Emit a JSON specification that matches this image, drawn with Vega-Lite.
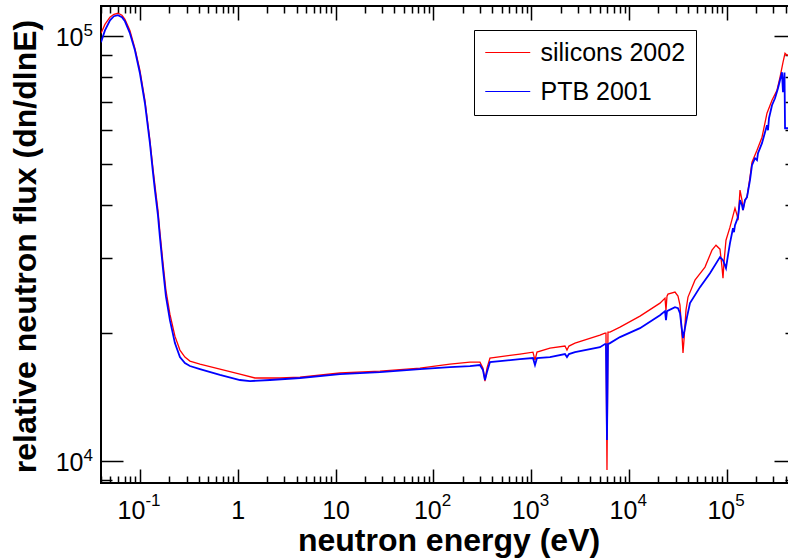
{
  "$schema": "https://vega.github.io/schema/vega-lite/v6.json",
  "autosize": {"type": "none"},
  "padding": {"left": 101, "top": 6, "right": -8, "bottom": 75},
  "width": 695,
  "height": 477,
  "background": "white",
  "data": {"values": [
    {"s":"silicons 2002","E":0.04,"F":101500},{"s":"silicons 2002","E":0.0439,"F":106500},{"s":"silicons 2002","E":0.0494,"F":110700},{"s":"silicons 2002","E":0.0542,"F":112500},{"s":"silicons 2002","E":0.0596,"F":113100},{"s":"silicons 2002","E":0.0655,"F":111900},{"s":"silicons 2002","E":0.0703,"F":109500},{"s":"silicons 2002","E":0.079,"F":103100},{"s":"silicons 2002","E":0.0889,"F":93560},{"s":"silicons 2002","E":0.1,"F":83050},{"s":"silicons 2002","E":0.1125,"F":70600},{"s":"silicons 2002","E":0.1265,"F":56860},{"s":"silicons 2002","E":0.1358,"F":48870},{"s":"silicons 2002","E":0.1423,"F":44570},{"s":"silicons 2002","E":0.1528,"F":38920},{"s":"silicons 2002","E":0.1601,"F":34550},{"s":"silicons 2002","E":0.1718,"F":29370},{"s":"silicons 2002","E":0.1843,"F":25240},{"s":"silicons 2002","E":0.2026,"F":22160},{"s":"silicons 2002","E":0.2279,"F":19670},{"s":"silicons 2002","E":0.2564,"F":18240},{"s":"silicons 2002","E":0.2884,"F":17560},{"s":"silicons 2002","E":0.3245,"F":17180},{"s":"silicons 2002","E":0.4107,"F":16910},{"s":"silicons 2002","E":0.6577,"F":16460},{"s":"silicons 2002","E":1.053,"F":16020},{"s":"silicons 2002","E":1.5,"F":15680},{"s":"silicons 2002","E":2.7,"F":15680},{"s":"silicons 2002","E":4.325,"F":15760},{"s":"silicons 2002","E":11.09,"F":16110},{"s":"silicons 2002","E":28.44,"F":16280},{"s":"silicons 2002","E":72.95,"F":16540},{"s":"silicons 2002","E":147.8,"F":16910},{"s":"silicons 2002","E":236.7,"F":17090},{"s":"silicons 2002","E":299.6,"F":17090},{"s":"silicons 2002","E":321.6,"F":16540},{"s":"silicons 2002","E":337,"F":15420},{"s":"silicons 2002","E":353.3,"F":16540},{"s":"silicons 2002","E":379,"F":17470},{"s":"silicons 2002","E":768.2,"F":17850},{"s":"silicons 2002","E":1043,"F":18040},{"s":"silicons 2002","E":1094,"F":17280},{"s":"silicons 2002","E":1147,"F":18040},{"s":"silicons 2002","E":1557,"F":18440},{"s":"silicons 2002","E":2216,"F":18640},{"s":"silicons 2002","E":2323,"F":18240},{"s":"silicons 2002","E":2435,"F":18640},{"s":"silicons 2002","E":2805,"F":18940},{"s":"silicons 2002","E":5052,"F":19780},{"s":"silicons 2002","E":5682,"F":20000},{"s":"silicons 2002","E":5818,"F":20000},{"s":"silicons 2002","E":5957,"F":9524},{"s":"silicons 2002","E":6099,"F":20100},{"s":"silicons 2002","E":6394,"F":20100},{"s":"silicons 2002","E":8091,"F":20660},{"s":"silicons 2002","E":12960,"F":21920},{"s":"silicons 2002","E":20750,"F":23520},{"s":"silicons 2002","E":23350,"F":24170},{"s":"silicons 2002","E":23900,"F":22650},{"s":"silicons 2002","E":24470,"F":24430},{"s":"silicons 2002","E":25050,"F":24700},{"s":"silicons 2002","E":29540,"F":24970},{"s":"silicons 2002","E":31700,"F":24430},{"s":"silicons 2002","E":33220,"F":23270},{"s":"silicons 2002","E":34830,"F":19780},{"s":"silicons 2002","E":35660,"F":17950},{"s":"silicons 2002","E":36510,"F":19250},{"s":"silicons 2002","E":38270,"F":22650},{"s":"silicons 2002","E":40120,"F":24300},{"s":"silicons 2002","E":47290,"F":26640},{"s":"silicons 2002","E":59860,"F":28590},{"s":"silicons 2002","E":70590,"F":31340},{"s":"silicons 2002","E":77560,"F":32200},{"s":"silicons 2002","E":85210,"F":31510},{"s":"silicons 2002","E":89320,"F":28590},{"s":"silicons 2002","E":91440,"F":26930},{"s":"silicons 2002","E":93620,"F":29370},{"s":"silicons 2002","E":98130,"F":33080},{"s":"silicons 2002","E":107800,"F":35500},{"s":"silicons 2002","E":121300,"F":39350},{"s":"silicons 2002","E":127200,"F":37880},{"s":"silicons 2002","E":130200,"F":36870},{"s":"silicons 2002","E":136500,"F":43380},{"s":"silicons 2002","E":143000,"F":41090},{"s":"silicons 2002","E":146400,"F":38920},{"s":"silicons 2002","E":153500,"F":41090},{"s":"silicons 2002","E":160900,"F":41770},{"s":"silicons 2002","E":172700,"F":46540},{"s":"silicons 2002","E":181000,"F":50470},{"s":"silicons 2002","E":203600,"F":53870},{"s":"silicons 2002","E":229000,"F":57790},{"s":"silicons 2002","E":257600,"F":65810},{"s":"silicons 2002","E":289900,"F":70600},{"s":"silicons 2002","E":326100,"F":74530},{"s":"silicons 2002","E":349900,"F":79960},{"s":"silicons 2002","E":375400,"F":86740},{"s":"silicons 2002","E":393700,"F":91060},{"s":"silicons 2002","E":412600,"F":90080},{"s":"silicons 2002","E":443100,"F":90500},
    {"s":"PTB 2001","E":0.04,"F":96650},{"s":"PTB 2001","E":0.0439,"F":103100},{"s":"PTB 2001","E":0.0494,"F":108900},{"s":"PTB 2001","E":0.0542,"F":111300},{"s":"PTB 2001","E":0.0596,"F":111900},{"s":"PTB 2001","E":0.0655,"F":110700},{"s":"PTB 2001","E":0.0703,"F":108300},{"s":"PTB 2001","E":0.079,"F":101500},{"s":"PTB 2001","E":0.0889,"F":92550},{"s":"PTB 2001","E":0.1,"F":81710},{"s":"PTB 2001","E":0.1125,"F":69470},{"s":"PTB 2001","E":0.1265,"F":55950},{"s":"PTB 2001","E":0.1358,"F":47820},{"s":"PTB 2001","E":0.1423,"F":43380},{"s":"PTB 2001","E":0.1528,"F":37880},{"s":"PTB 2001","E":0.1601,"F":33630},{"s":"PTB 2001","E":0.1718,"F":28430},{"s":"PTB 2001","E":0.1843,"F":24430},{"s":"PTB 2001","E":0.2026,"F":21450},{"s":"PTB 2001","E":0.2279,"F":18940},{"s":"PTB 2001","E":0.2564,"F":17560},{"s":"PTB 2001","E":0.2884,"F":17000},{"s":"PTB 2001","E":0.3245,"F":16730},{"s":"PTB 2001","E":0.4107,"F":16460},{"s":"PTB 2001","E":0.6577,"F":15940},{"s":"PTB 2001","E":1.053,"F":15510},{"s":"PTB 2001","E":1.333,"F":15420},{"s":"PTB 2001","E":2.135,"F":15510},{"s":"PTB 2001","E":4.325,"F":15680},{"s":"PTB 2001","E":11.09,"F":16020},{"s":"PTB 2001","E":28.44,"F":16190},{"s":"PTB 2001","E":72.95,"F":16460},{"s":"PTB 2001","E":147.8,"F":16630},{"s":"PTB 2001","E":236.7,"F":16730},{"s":"PTB 2001","E":299.6,"F":16820},{"s":"PTB 2001","E":321.6,"F":16370},{"s":"PTB 2001","E":337,"F":15510},{"s":"PTB 2001","E":353.3,"F":16190},{"s":"PTB 2001","E":379,"F":17090},{"s":"PTB 2001","E":479.8,"F":17180},{"s":"PTB 2001","E":768.2,"F":17370},{"s":"PTB 2001","E":1043,"F":17470},{"s":"PTB 2001","E":1094,"F":16820},{"s":"PTB 2001","E":1147,"F":17470},{"s":"PTB 2001","E":1557,"F":17560},{"s":"PTB 2001","E":2216,"F":17850},{"s":"PTB 2001","E":2323,"F":17560},{"s":"PTB 2001","E":2435,"F":17850},{"s":"PTB 2001","E":2805,"F":18040},{"s":"PTB 2001","E":5052,"F":18530},{"s":"PTB 2001","E":5682,"F":18840},{"s":"PTB 2001","E":5818,"F":18840},{"s":"PTB 2001","E":5957,"F":11210},{"s":"PTB 2001","E":6099,"F":18840},{"s":"PTB 2001","E":6394,"F":18940},{"s":"PTB 2001","E":8091,"F":19570},{"s":"PTB 2001","E":12960,"F":20540},{"s":"PTB 2001","E":20750,"F":22040},{"s":"PTB 2001","E":23350,"F":22520},{"s":"PTB 2001","E":23900,"F":21450},{"s":"PTB 2001","E":24470,"F":22520},{"s":"PTB 2001","E":29540,"F":23020},{"s":"PTB 2001","E":31700,"F":22890},{"s":"PTB 2001","E":33220,"F":22280},{"s":"PTB 2001","E":34830,"F":20320},{"s":"PTB 2001","E":35660,"F":19460},{"s":"PTB 2001","E":36510,"F":20000},{"s":"PTB 2001","E":39180,"F":21800},{"s":"PTB 2001","E":42050,"F":23520},{"s":"PTB 2001","E":53210,"F":25650},{"s":"PTB 2001","E":67330,"F":27670},{"s":"PTB 2001","E":85210,"F":30180},{"s":"PTB 2001","E":91440,"F":29690},{"s":"PTB 2001","E":98130,"F":28430},{"s":"PTB 2001","E":102900,"F":30500},{"s":"PTB 2001","E":107800,"F":32550},{"s":"PTB 2001","E":115700,"F":35300},{"s":"PTB 2001","E":118400,"F":34550},{"s":"PTB 2001","E":121300,"F":35880},{"s":"PTB 2001","E":130200,"F":37470},{"s":"PTB 2001","E":136500,"F":41090},{"s":"PTB 2001","E":143000,"F":39990},{"s":"PTB 2001","E":146400,"F":38920},{"s":"PTB 2001","E":153500,"F":41090},{"s":"PTB 2001","E":160900,"F":41770},{"s":"PTB 2001","E":172700,"F":45790},{"s":"PTB 2001","E":181000,"F":49660},{"s":"PTB 2001","E":194300,"F":51580},{"s":"PTB 2001","E":203600,"F":51030},{"s":"PTB 2001","E":208500,"F":53000},{"s":"PTB 2001","E":229000,"F":55950},{"s":"PTB 2001","E":245900,"F":59380},{"s":"PTB 2001","E":257600,"F":61660},{"s":"PTB 2001","E":263800,"F":60030},{"s":"PTB 2001","E":270100,"F":64070},{"s":"PTB 2001","E":289900,"F":68730},{"s":"PTB 2001","E":311100,"F":71370},{"s":"PTB 2001","E":333800,"F":75340},{"s":"PTB 2001","E":349900,"F":78670},{"s":"PTB 2001","E":366700,"F":82150},{"s":"PTB 2001","E":375400,"F":73730},{"s":"PTB 2001","E":384600,"F":79530},{"s":"PTB 2001","E":389000,"F":82000},{"s":"PTB 2001","E":394000,"F":60670},{"s":"PTB 2001","E":443100,"F":60670}
  ]},
  "layer": [
    {
      "transform": [{"filter": "datum.s == 'silicons 2002'"}],
      "mark": {"type": "line", "strokeWidth": 1.3, "clip": true},
      "encoding": {
        "x": {"field": "E", "type": "quantitative",
          "scale": {"type": "log", "domain": [0.04, 510000], "nice": false},
          "axis": {"orient": "bottom", "values": [0.1, 1, 10, 100, 1000, 10000, 100000], "ticks": false, "domain": false, "grid": false,
            "labelExpr": "datum.value > 0.5 && datum.value < 5 ? '1' : '10'",
            "labelOffset": {"condition": [{"test": "datum.value < 0.5", "value": -9}, {"test": "datum.value > 50", "value": -6}], "value": 0},
            "labelFont": "Liberation Sans", "labelFontSize": 25, "labelColor": "black", "labelPadding": 15, "labelFlush": false, "labelOverlap": false, "labelBound": false,
            "title": "neutron energy (eV)", "titleFont": "Liberation Sans", "titleFontSize": 32, "titleFontWeight": "bold", "titleColor": "black",
            "titleBaseline": "alphabetic", "titleY": 67}},
        "y": {"field": "F", "type": "quantitative",
          "scale": {"type": "log", "domain": [8877, 117650], "nice": false},
          "axis": {"orient": "left", "values": [10000, 100000], "ticks": false, "domain": false, "grid": false,
            "labelExpr": "'10'", "labelAlign": "right", "labelBaseline": "middle", "labelOffset": 1,
            "labelFont": "Liberation Sans", "labelFontSize": 25, "labelColor": "black", "labelPadding": 18, "labelFlush": false, "labelOverlap": false, "labelBound": false,
            "title": "relative neutron flux (dn/dlnE)", "titleFont": "Liberation Sans", "titleFontSize": 32, "titleFontWeight": "bold", "titleColor": "black",
            "titleBaseline": "alphabetic", "titleAngle": -90, "titleX": -66, "titleY": 240}},
        "color": {"field": "s", "type": "nominal",
          "scale": {"domain": ["silicons 2002", "PTB 2001"], "range": ["#ff0000", "#0000ff"]},
          "legend": {"orient": "none", "legendX": 373, "legendY": 24, "title": null,
            "strokeColor": "black", "fillColor": "white", "padding": 10, "symbolType": "M-1,0H3", "symbolSize": 506, "symbolStrokeWidth": 1.2,
            "labelFont": "Liberation Sans", "labelFontSize": 25, "labelColor": "black", "labelOffset": 31.5, "rowPadding": 13}}
      }
    },
    {
      "transform": [{"filter": "datum.s == 'PTB 2001'"}],
      "mark": {"type": "line", "strokeWidth": 1.8, "clip": true},
      "encoding": {
        "x": {"field": "E", "type": "quantitative",
          "axis": {"orient": "bottom", "values": [0.04,0.05,0.06,0.07,0.08,0.09,0.1,0.2,0.3,0.4,0.5,0.6,0.7,0.8,0.9,1,2,3,4,5,6,7,8,9,10,20,30,40,50,60,70,80,90,100,200,300,400,500,600,700,800,900,1000,2000,3000,4000,5000,6000,7000,8000,9000,10000,20000,30000,40000,50000,60000,70000,80000,90000,100000,200000,300000,400000,500000],
            "labels": false, "domain": false, "grid": false, "title": null, "tickColor": "black", "tickWidth": 1.5,
            "tickSize": {"condition": {"test": "abs(log(datum.value)/LN10 - round(log(datum.value)/LN10)) < 0.001", "value": -14}, "value": -7}}},
        "y": {"field": "F", "type": "quantitative",
          "axis": {"orient": "left", "values": [9000,10000,20000,30000,40000,50000,60000,70000,80000,90000,100000],
            "labels": false, "domain": false, "grid": false, "title": null, "tickColor": "black", "tickWidth": 1.5,
            "tickSize": {"condition": {"test": "abs(log(datum.value)/LN10 - round(log(datum.value)/LN10)) < 0.001", "value": -22}, "value": -11}}},
        "color": {"field": "s", "type": "nominal"}
      }
    },
    {
      "transform": [{"filter": "datum.s == 'PTB 2001'"}],
      "mark": {"type": "line", "opacity": 0, "clip": true},
      "encoding": {
        "x": {"field": "E", "type": "quantitative",
          "axis": {"orient": "top", "values": [0.04,0.05,0.06,0.07,0.08,0.09,0.1,0.2,0.3,0.4,0.5,0.6,0.7,0.8,0.9,1,2,3,4,5,6,7,8,9,10,20,30,40,50,60,70,80,90,100,200,300,400,500,600,700,800,900,1000,2000,3000,4000,5000,6000,7000,8000,9000,10000,20000,30000,40000,50000,60000,70000,80000,90000,100000,200000,300000,400000,500000],
            "labels": false, "domain": false, "grid": false, "title": null, "tickColor": "black", "tickWidth": 1.5,
            "tickSize": {"condition": {"test": "abs(log(datum.value)/LN10 - round(log(datum.value)/LN10)) < 0.001", "value": -14}, "value": -7}}},
        "y": {"field": "F", "type": "quantitative",
          "axis": {"orient": "right", "values": [9000,10000,20000,30000,40000,50000,60000,70000,80000,90000,100000],
            "labels": false, "domain": false, "grid": false, "title": null, "tickColor": "black", "tickWidth": 1.5,
            "tickSize": {"condition": {"test": "abs(log(datum.value)/LN10 - round(log(datum.value)/LN10)) < 0.001", "value": -22}, "value": -11}}}
      }
    },
    {
      "transform": [{"filter": "datum.s == 'PTB 2001'"}],
      "mark": {"type": "line", "opacity": 0, "clip": true},
      "encoding": {
        "x": {"field": "E", "type": "quantitative",
          "axis": {"orient": "bottom", "values": [0.1, 100, 1000, 10000, 100000], "ticks": false, "domain": false, "grid": false, "title": null,
            "labelExpr": "datum.value < 0.5 ? '-1' : datum.value < 500 ? '2' : datum.value < 5000 ? '3' : datum.value < 50000 ? '4' : '5'",
            "labelAlign": "left", "labelOffset": {"condition": {"test": "datum.value < 0.5", "value": 5}, "value": 8},
            "labelFont": "Liberation Sans", "labelFontSize": 17, "labelColor": "black", "labelPadding": 9, "labelFlush": false, "labelOverlap": false, "labelBound": false}},
        "y": {"field": "F", "type": "quantitative",
          "axis": {"orient": "left", "values": [10000, 100000], "ticks": false, "domain": false, "grid": false, "title": null,
            "labelExpr": "datum.value < 50000 ? '4' : '5'",
            "labelAlign": "left", "labelBaseline": "middle", "labelOffset": -6,
            "labelFont": "Liberation Sans", "labelFontSize": 17, "labelColor": "black", "labelPadding": 18, "labelFlush": false, "labelOverlap": false, "labelBound": false}}
      }
    }
  ],
  "resolve": {"axis": {"x": "independent", "y": "independent"}},
  "config": {"view": {"stroke": "black", "strokeWidth": 2}}
}
